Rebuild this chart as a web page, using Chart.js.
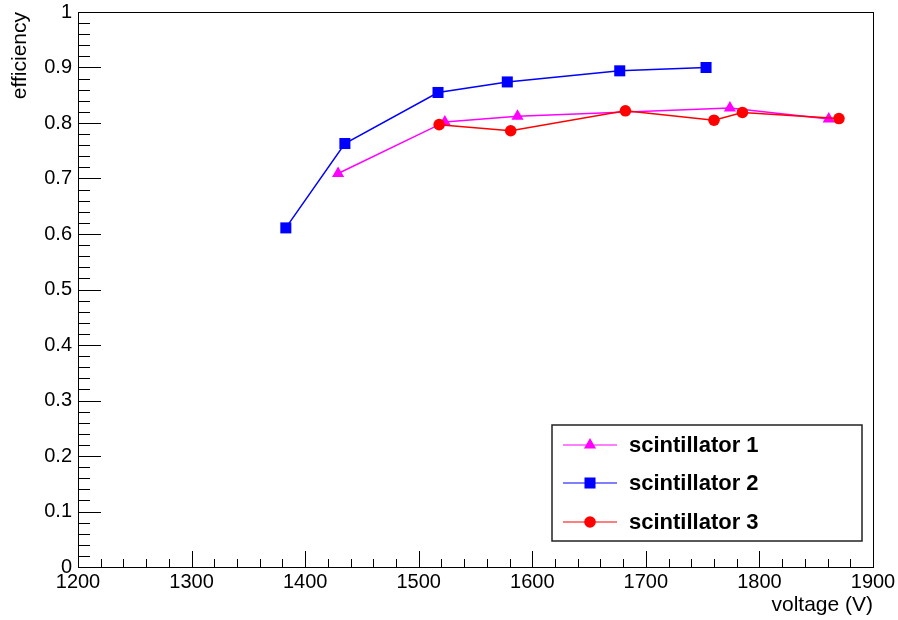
<!DOCTYPE html>
<html lang="en">
<head>
  <meta charset="UTF-8">
  <title>Scintillator efficiency vs voltage</title>
  <script src="https://cdn.jsdelivr.net/npm/chart.js"></script>
  <style>
    body { margin: 0; background: #fff; }
  </style>
</head>
<body>
  <canvas id="effChart" width="898" height="620"></canvas>

  <script>
    // series labels
    const seriesNames = ['scintillator 1', 'scintillator 2', 'scintillator 3'];

    // scintillator 1 (magenta triangles)
    const s1Volt = [1429, 1523, 1587, 1774, 1861];
    const s1Eff = [0.709, 0.802, 0.812, 0.827, 0.807];

    // scintillator 2 (blue squares)
    const s2Volt = [1383, 1435, 1517, 1578, 1677, 1753];
    const s2Eff = [0.611, 0.763, 0.855, 0.874, 0.894, 0.900];

    // scintillator 3 (red circles)
    const s3Volt = [1518, 1581, 1682, 1760, 1785, 1870];
    const s3Eff = [0.797, 0.786, 0.822, 0.805, 0.819, 0.808];

    // axis ranges / ticks
    const xRange = [1200, 1900];
    const yRange = [0, 1];
    const xStep = 100;
    const yStep = 0.1;

    const FONT = "'Liberation Sans', Arial, Helvetica, sans-serif";
    Chart.defaults.font.family = FONT;
    Chart.defaults.color = '#000';

    function toPoints(xs, ys) {
      return xs.map((x, i) => ({ x: x, y: ys[i] }));
    }

    // ROOT-like frame, inner ticks and boxed legend
    const rootStyle = {
      id: 'rootStyle',
      afterDatasetsDraw(chart) {
        const ctx = chart.ctx;
        const a = chart.chartArea;
        const xs = chart.scales.x;
        const ys = chart.scales.y;
        ctx.save();
        ctx.strokeStyle = '#000';
        ctx.lineWidth = 1;
        ctx.strokeRect(Math.round(a.left) + 0.5, Math.round(a.top) + 0.5,
          Math.round(a.right - a.left), Math.round(a.bottom - a.top));

        ctx.beginPath();
        // y ticks, 4 minors between majors
        const yMinor = yStep / 5;
        for (let i = 0; i <= Math.round((yRange[1] - yRange[0]) / yMinor); i++) {
          const v = yRange[0] + i * yMinor;
          const py = Math.round(ys.getPixelForValue(v)) + 0.5;
          const len = (i % 5 === 0) ? 23 : 12;
          ctx.moveTo(a.left, py);
          ctx.lineTo(a.left + len, py);
        }
        // x ticks
        const xMinor = xStep / 5;
        for (let i = 0; i <= Math.round((xRange[1] - xRange[0]) / xMinor); i++) {
          const v = xRange[0] + i * xMinor;
          const px = Math.round(xs.getPixelForValue(v)) + 0.5;
          const len = (i % 5 === 0) ? 16 : 8;
          ctx.moveTo(px, a.bottom);
          ctx.lineTo(px, a.bottom - len);
        }
        ctx.stroke();

        // legend
        const box = { x: 552, y: 425, w: 310, h: 116 };
        ctx.fillStyle = '#fff';
        ctx.fillRect(box.x, box.y, box.w, box.h);
        ctx.lineWidth = 1.5;
        ctx.strokeStyle = '#222';
        ctx.strokeRect(box.x, box.y, box.w, box.h);

        const rows = [445, 483, 522];
        chart.data.datasets.forEach((ds, i) => {
          const ry = rows[i];
          ctx.strokeStyle = ds.borderColor;
          ctx.lineWidth = 1.2;
          ctx.beginPath();
          ctx.moveTo(563, ry);
          ctx.lineTo(617, ry);
          ctx.stroke();
          ctx.fillStyle = ds.backgroundColor;
          ctx.strokeStyle = ds.backgroundColor;
          Chart.helpers.drawPoint(ctx, {
            pointStyle: ds.pointStyle,
            radius: ds.pointRadius,
            borderWidth: 0
          }, 590, ry);
          ctx.fillStyle = '#000';
          ctx.font = 'bold 22px ' + FONT;
          ctx.textAlign = 'left';
          ctx.textBaseline = 'middle';
          ctx.fillText(ds.label, 629, ry + 1);
        });
        ctx.restore();
      }
    };

    const ctx = document.getElementById('effChart').getContext('2d');

    const effChart = new Chart(ctx, {
      type: 'line',
      data: {
        datasets: [
          {
            label: seriesNames[0],
            data: toPoints(s1Volt, s1Eff),
            borderColor: '#ff00ff',
            backgroundColor: '#ff00ff',
            pointStyle: 'triangle',
            pointRadius: 7,
            borderWidth: 1.5,
            pointBorderWidth: 0,
            order: 3
          },
          {
            label: seriesNames[1],
            data: toPoints(s2Volt, s2Eff),
            borderColor: '#0000ff',
            backgroundColor: '#0000ff',
            pointStyle: 'rect',
            pointRadius: 7.8,
            borderWidth: 1.5,
            pointBorderWidth: 0,
            order: 2
          },
          {
            label: seriesNames[2],
            data: toPoints(s3Volt, s3Eff),
            borderColor: '#ff0000',
            backgroundColor: '#ff0000',
            pointStyle: 'circle',
            pointRadius: 5.8,
            borderWidth: 1.5,
            pointBorderWidth: 0,
            order: 1
          }
        ]
      },
      options: {
        responsive: false,
        animation: false,
        events: [],
        layout: { padding: { top: 12, right: 25, left: 0, bottom: 0 } },
        plugins: {
          legend: { display: false },
          tooltip: { enabled: false }
        },
        scales: {
          x: {
            type: 'linear',
            min: xRange[0],
            max: xRange[1],
            grid: { display: false, drawTicks: false },
            border: { display: false },
            ticks: {
              stepSize: xStep,
              autoSkip: false,
              maxRotation: 0,
              padding: 3,
              font: { size: 20 },
              color: '#000',
              callback: (v) => String(v)
            },
            title: {
              display: true,
              text: 'voltage (V)',
              align: 'end',
              font: { size: 21 },
              color: '#000',
              padding: { top: 0, bottom: 2 }
            },
            afterFit: (s) => { s.height = 53; s.paddingLeft = 0; s.paddingRight = 0; }
          },
          y: {
            type: 'linear',
            min: yRange[0],
            max: yRange[1],
            grid: { display: false, drawTicks: false },
            border: { display: false },
            ticks: {
              stepSize: yStep,
              autoSkip: false,
              padding: 6,
              font: { size: 20 },
              color: '#000',
              callback: (v) => String(Math.round(v * 10) / 10)
            },
            title: {
              display: true,
              text: 'efficiency',
              align: 'end',
              font: { size: 21 },
              color: '#000',
              padding: { top: 8, bottom: 0 }
            },
            afterFit: (s) => { s.width = 78; s.paddingTop = 0; s.paddingBottom = 0; }
          }
        }
      },
      plugins: [rootStyle]
    });
  </script>
</body>
</html>
